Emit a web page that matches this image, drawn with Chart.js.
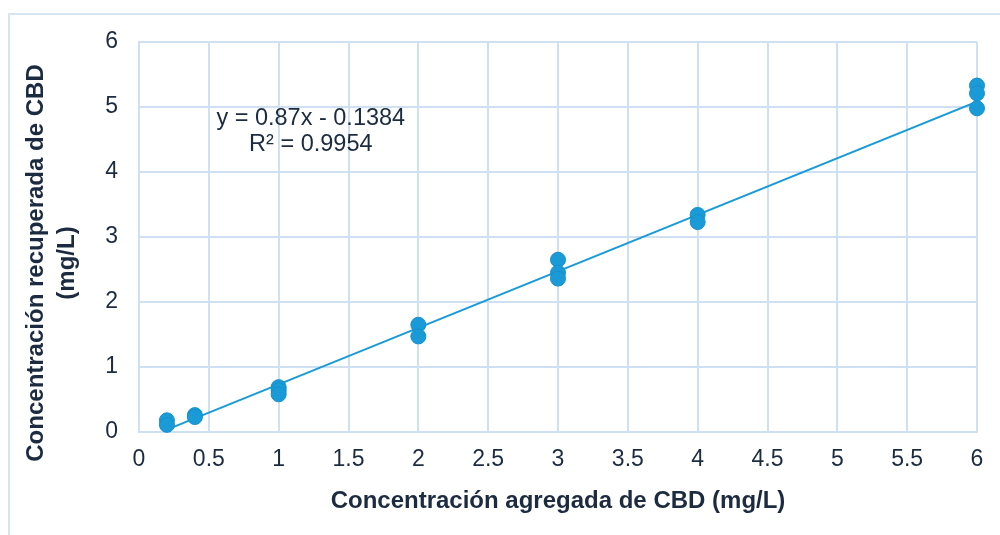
<!DOCTYPE html>
<html>
<head>
<meta charset="utf-8">
<script src="https://cdn.jsdelivr.net/npm/chart.js@4"></script>
<style>
  html, body { margin: 0; padding: 0; background: #fff; }
  #wrap { position: relative; width: 1000px; height: 535px; overflow: hidden; }
  #frame { position: absolute; left: 8px; top: 13px; width: 1100px; height: 600px;
           border: 2px solid #d6e4f3; box-sizing: border-box; }
  canvas { position: absolute; left: 0; top: 0; }
</style>
</head>
<body>
<div id="wrap">
  <div id="frame"></div>
  <canvas id="cbdChart" width="1000" height="535"></canvas>
</div>
<script>
// added concentration (x) and recovered concentration (y), mg/L
var addedX = [0.2, 0.2, 0.4, 0.4, 1, 1, 1, 2, 2, 3, 3, 3, 4, 4, 6, 6, 6];
var recoveredY = [0.18, 0.11, 0.26, 0.23, 0.69, 0.64, 0.58, 1.65, 1.47, 2.65, 2.45, 2.36, 3.34, 3.23, 5.33, 5.21, 4.98];

// linear trend line end points (y = 0.87x - 0.1384)
var trendX = [0.2, 6];
var trendY = [0.036, 5.082];

var eqnText = ["y = 0.87x - 0.1384", "R\u00b2 = 0.9954"];
var xTitle = "Concentraci\u00f3n agregada de CBD (mg/L)";
var yTitle = ["Concentraci\u00f3n recuperada de CBD", "(mg/L)"];

var BLUE = "#1a9bd7";
var GRID = "#cfe0f3";
var TEXT = "#1c2b3f";
var FONT = "'Liberation Sans', Arial, sans-serif";

var points = [];
for (var i = 0; i < addedX.length; i++) {
    points.push({ x: addedX[i], y: recoveredY[i] });
}
var trend = [];
for (var j = 0; j < trendX.length; j++) {
    trend.push({ x: trendX[j], y: trendY[j] });
}

// regression equation label inside the plot
const eqnLabel = {
    id: 'eqnLabel',
    afterDatasetsDraw(chart) {
        var ctx = chart.ctx;
        var xs = chart.scales.x, ys = chart.scales.y;
        var cx = xs.getPixelForValue(1.23);
        ctx.save();
        ctx.font = "23.5px " + FONT;
        ctx.fillStyle = TEXT;
        ctx.textAlign = "center";
        ctx.textBaseline = "middle";
        ctx.fillText(eqnText[0], cx, ys.getPixelForValue(4.82));
        ctx.fillText(eqnText[1], cx, ys.getPixelForValue(4.42));
        ctx.restore();
    }
};

// y title: excel centres it a bit lower than the plot area
const yTitleLabel = {
    id: 'yTitleLabel',
    afterDraw(chart) {
        var ctx = chart.ctx;
        var ys = chart.scales.y;
        var cy = ys.getPixelForValue(2.6);
        ctx.save();
        ctx.translate(0, cy);
        ctx.rotate(-Math.PI / 2);
        ctx.font = "bold 24px " + FONT;
        ctx.fillStyle = TEXT;
        ctx.textAlign = "center";
        ctx.textBaseline = "middle";
        ctx.fillText(yTitle[0], 0, 36);
        ctx.fillText(yTitle[1], 0, 67);
        ctx.restore();
    }
};

var ctx = document.getElementById("cbdChart");
var cbdChart = new Chart(ctx, {
    type: 'scatter',
    data: {
        datasets: [
            {
                label: 'trend',
                type: 'line',
                data: trend,
                borderColor: BLUE,
                borderWidth: 2,
                pointRadius: 0,
                fill: false,
                order: 2
            },
            {
                label: 'datos',
                data: points,
                backgroundColor: BLUE,
                borderColor: "#1590cc",
                borderWidth: 1,
                pointRadius: 7.5,
                clip: false,
                order: 1
            }
        ]
    },
    options: {
        responsive: false,
        animation: false,
        layout: { padding: { top: 42, right: 23, bottom: 19, left: 20 } },
        plugins: {
            legend: { display: false },
            tooltip: { enabled: false }
        },
        scales: {
            x: {
                type: 'linear',
                min: 0,
                max: 6,
                ticks: {
                    stepSize: 0.5, color: TEXT, font: { size: 23, family: FONT }, padding: 14,
                    callback: function (v) { return String(Math.round(v * 10) / 10); }
                },
                grid: { color: GRID, lineWidth: 2, drawTicks: false },
                border: { color: GRID, width: 2 },
                title: {
                    display: true, text: xTitle, color: TEXT,
                    font: { size: 24, weight: 'bold', family: FONT },
                    padding: { top: 6, bottom: 0 }
                },
                afterFit: function (scale) { scale.height = 84; }
            },
            y: {
                min: 0,
                max: 6,
                ticks: { stepSize: 1, color: TEXT, font: { size: 23, family: FONT }, padding: 21 },
                grid: { color: GRID, lineWidth: 2, drawTicks: false },
                border: { color: GRID, width: 2 },
                title: { display: false },
                afterFit: function (scale) { scale.width = 119; }
            }
        }
    },
    plugins: [eqnLabel, yTitleLabel]
});
</script>
</body>
</html>
